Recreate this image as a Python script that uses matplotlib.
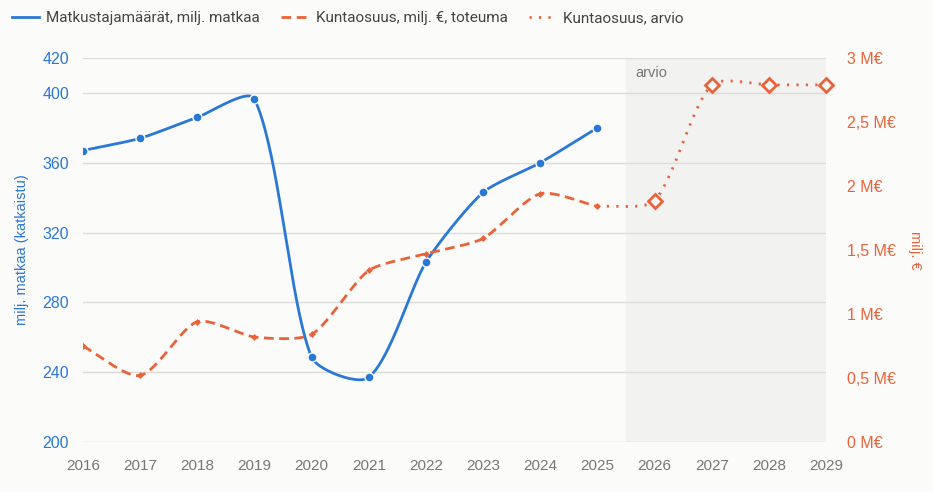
import numpy as np
import matplotlib.pyplot as plt
from matplotlib.lines import Line2D

# data
years = [2016, 2017, 2018, 2019, 2020, 2021, 2022, 2023, 2024, 2025, 2026, 2027, 2028, 2029]
passengers = [367, 374, 386, 396.5, 248.5, 237, 303, 343, 360, 380]      # milj. matkaa, 2016-2025
share_actual = [0.75, 0.52, 0.94, 0.82, 0.84, 1.34, 1.47, 1.59, 1.94, 1.84]  # milj. €, 2016-2025
share_est = [1.84, 1.885, 2.79, 2.79, 2.79]                               # milj. €, 2025-2029

left_ticks = [200, 240, 280, 320, 360, 400, 420]
right_ticks = [0, 0.5, 1, 1.5, 2, 2.5, 3]
right_labels = ["0 M€", "0,5 M€", "1 M€", "1,5 M€", "2 M€", "2,5 M€", "3 M€"]

BLUE = "#2a78d6"
ORANGE = "#e8633a"
GRAY = "#777777"
BG = "#fbfbf9"


def smooth(ax, x, y, s=0.22, n=40):
    # bezier smoothing in screen space, handles scaled by segment length (drawing only)
    tr = ax.transData
    p = tr.transform(np.column_stack([x, y]))
    out = []
    for i in range(len(p) - 1):
        a, b = p[i], p[i + 1]
        seg = np.linalg.norm(b - a)
        d0 = (p[i + 1] - p[i - 1]) if i > 0 else (b - a)
        d1 = (p[i + 2] - p[i]) if i + 2 < len(p) else (b - a)
        c1 = a + d0 / np.linalg.norm(d0) * seg * s
        c2 = b - d1 / np.linalg.norm(d1) * seg * s
        u = np.linspace(0, 1, n)[:, None]
        out.append((1 - u)**3 * a + 3 * (1 - u)**2 * u * c1 + 3 * (1 - u) * u**2 * c2 + u**3 * b)
    pts = tr.inverted().transform(np.vstack(out))
    return pts[:, 0], pts[:, 1]


def main():
    plt.rcParams['font.family'] = ['Liberation Sans', 'DejaVu Sans']
    fig = plt.figure(figsize=(9.33, 4.92), dpi=100, facecolor=BG)
    ax = fig.add_axes([83 / 933, 50 / 492, 743 / 933, 384 / 492])
    ax.set_facecolor(BG)
    ax2 = ax.twinx()

    ax.set_xlim(2016, 2029)
    ax.set_ylim(200, 420)
    ax2.set_ylim(0, 3)

    act_years = years[:len(passengers)]
    est_years = years[len(share_actual) - 1:]

    ax.axvspan(2025.5, 2029, color="#f2f2f1", zorder=0, lw=0)
    ax.text(2025.66, 411.5, "arvio", color=GRAY, fontsize=10.5, va="center", zorder=1)

    for v in left_ticks:
        ax.axhline(v, color="#dcdcd8", lw=1, zorder=1)

    bx, by = smooth(ax, act_years, passengers)
    ax.plot(bx, by, color=BLUE, lw=2, zorder=3, solid_capstyle="round")
    ax.plot(act_years, passengers, "o", color=BLUE, ms=6.5, mec=BG, mew=1, zorder=4)

    ox, oy = smooth(ax2, act_years, share_actual)
    ax2.plot(ox, oy, color=ORANGE, lw=2, dashes=(3.5, 2), zorder=3)
    ax2.plot(act_years, share_actual, "D", color=ORANGE, ms=3.5, mew=0, zorder=4)
    ex, ey = smooth(ax2, est_years, share_est)
    ax2.plot(ex, ey, color=ORANGE, lw=2, dashes=(0.8, 2.6), zorder=3)
    ax2.plot(est_years[1:], share_est[1:], "D", mfc="#f7f7f5", mec=ORANGE, mew=2,
             ms=7, zorder=5, clip_on=False)

    ax.set_xticks(years)
    ax.set_xticklabels([str(y) for y in years])
    ax.set_yticks(left_ticks)
    ax2.set_yticks(right_ticks)
    ax2.set_yticklabels(right_labels)

    ax.tick_params(axis="x", length=0, pad=12, labelsize=11, labelcolor=GRAY)
    ax.tick_params(axis="y", length=0, pad=10, labelsize=11.5, labelcolor=BLUE)
    ax2.tick_params(axis="y", length=0, pad=15, labelsize=11.5, labelcolor=ORANGE)
    for a in (ax, ax2):
        for sp in a.spines.values():
            sp.set_visible(False)
    ax2.set_zorder(ax.get_zorder() + 1)
    ax2.patch.set_visible(False)

    fig.text(22 / 933, 1 - 250 / 492, "milj. matkaa (katkaistu)", rotation=90, color=BLUE,
             fontsize=10.5, ha="center", va="center")
    fig.text(915 / 933, 1 - 250 / 492, "milj. €", rotation=270, color=ORANGE,
             fontsize=10.5, ha="center", va="center")

    handles = [
        Line2D([], [], color=BLUE, lw=2),
        Line2D([], [], color=ORANGE, lw=2, dashes=(3.5, 2)),
        Line2D([], [], color=ORANGE, lw=2, dashes=(0.8, 2.6)),
    ]
    labels = ["Matkustajamäärät, milj. matkaa", "Kuntaosuus, milj. €, toteuma", "Kuntaosuus, arvio"]
    leg = fig.legend(handles, labels, loc="center left", bbox_to_anchor=(-0.002, 1 - 18 / 492),
                     ncol=3, frameon=False, handlelength=1.75, handletextpad=0.5,
                     columnspacing=1.4, prop={"family": ["Roboto", "DejaVu Sans"], "size": 11})
    for t in leg.get_texts():
        t.set_color("#444444")

    fig.savefig("out.png", dpi=100, facecolor=BG)


if __name__ == "__main__":
    main()
